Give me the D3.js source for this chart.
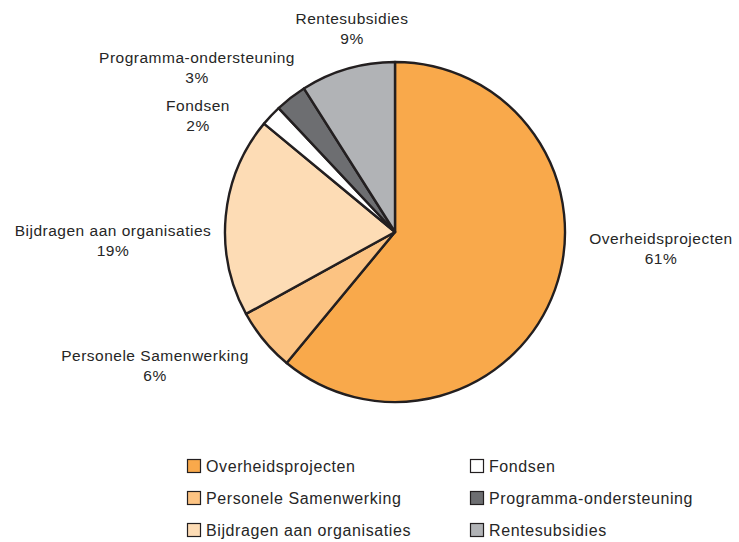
<!DOCTYPE html>
<html>
<head>
<meta charset="utf-8">
<title>Verdeling</title>
<style>
body { margin: 0; background: #fff; }
svg { display: block; }
text { font-family: "Liberation Sans", Arial, sans-serif; fill: #262626; }
</style>
</head>
<body>
<svg></svg>
<script src="https://d3js.org/d3.v7.min.js"></script>
<script>
// data
const categories = ['Overheidsprojecten', 'Personele Samenwerking', 'Bijdragen aan organisaties',
                    'Fondsen', 'Programma-ondersteuning', 'Rentesubsidies'];
const shares = [61, 6, 19, 2, 3, 9];
const colors = ['#f9a94b', '#fcc382', '#fddcb5', '#ffffff', '#6d6e71', '#b1b3b6'];

// label anchors (centre of text block, first line baseline)
const labelPos = [[661, 244], [155, 361], [113, 236], [198, 111], [197, 63], [352, 24]];
const legendOrder = [[0, 1, 2], [3, 4, 5]];

const width = 739, height = 542;
const cx = 395, cy = 232, r = 170;

const svg = d3.select('svg').attr('width', width).attr('height', height);

const pie = d3.pie().sort(null).value(d => d)(shares);
const arc = d3.arc().innerRadius(0).outerRadius(r);

const g = svg.append('g').attr('transform', `translate(${cx},${cy})`);
g.selectAll('path')
  .data(pie)
  .join('path')
  .attr('d', arc)
  .attr('fill', (d, i) => colors[i])
  .attr('stroke', '#231f20')
  .attr('stroke-width', 2.4)
  .attr('stroke-linejoin', 'round');

const lab = svg.append('g');
categories.forEach((c, i) => {
  const t = lab.append('text')
    .attr('text-anchor', 'middle')
    .attr('x', labelPos[i][0])
    .attr('y', labelPos[i][1])
    .style('font-size', '15.5px')
    .style('letter-spacing', '0.5px');
  t.append('tspan').attr('x', labelPos[i][0]).text(c);
  t.append('tspan').attr('x', labelPos[i][0]).attr('dy', 20).text(shares[i] + '%');
});

// legend
const colX = [187, 470];
const rowY = d3.scaleLinear().domain([0, 2]).range([466, 530]);
const leg = svg.append('g');
legendOrder.forEach((col, ci) => {
  col.forEach((idx, ri) => {
    const y = rowY(ri);
    leg.append('rect')
      .attr('x', colX[ci] + 0.5).attr('y', y - 6.5)
      .attr('width', 13).attr('height', 13)
      .attr('fill', colors[idx])
      .attr('stroke', '#231f20').attr('stroke-width', 1.2);
    leg.append('text')
      .attr('x', colX[ci] + 19).attr('y', y + 5.5)
      .style('font-size', '16px')
      .style('letter-spacing', '0.6px')
      .text(categories[idx]);
  });
});
</script>
</body>
</html>
